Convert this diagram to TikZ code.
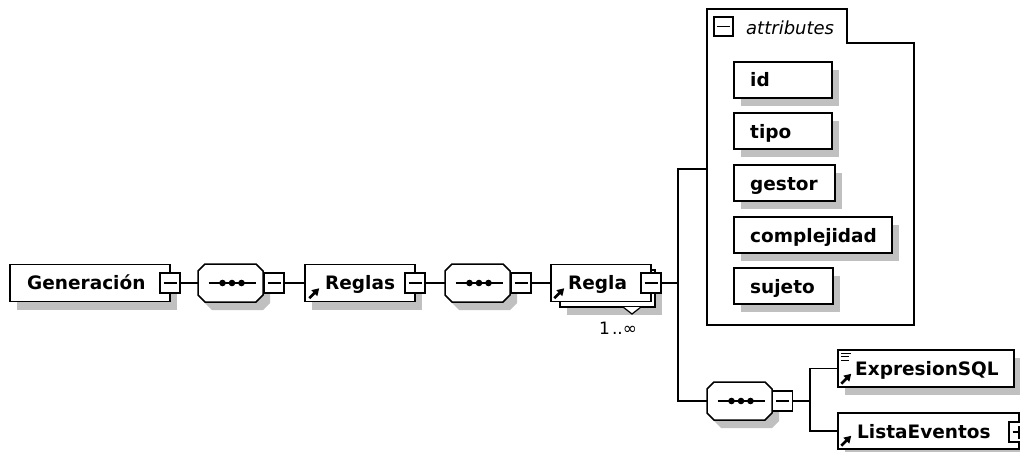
\documentclass[tikz,border=0pt]{standalone}
\usepackage{fontspec}
\newfontfamily\dv{DejaVu Sans}
\usetikzlibrary{arrows.meta}
\definecolor{shadowgray}{RGB}{192,192,192}
\tikzset{
  shadowed/.style={preaction={draw=none,fill=shadowgray,transform canvas={shift={(7pt,-8pt)}}}},
  elem/.style={draw, fill=white, rectangle, minimum height=37pt, inner sep=0pt, line width=1.5pt},
  attrbox/.style={elem, minimum height=36pt, shadowed},
  seqnode/.style={rectangle, minimum width=65pt, minimum height=38pt, inner sep=0pt,
    path picture={
      \draw[line width=1.6pt] ([xshift=-22pt]path picture bounding box.center) -- ([xshift=25pt]path picture bounding box.center);
      \foreach \d in {-8,1.5,11} \fill ([xshift=\d pt]path picture bounding box.center) circle (3.3pt);
    }},
  octline/.style={draw, fill=white, line width=1.5pt},
  tog/.style={draw, fill=white, rectangle, minimum size=20pt, inner sep=0pt, line width=1.5pt},
  minus/.style={tog, path picture={\draw[line width=1.3pt] ([xshift=-6.5pt]path picture bounding box.center) -- ([xshift=6.5pt]path picture bounding box.center);}},
  plus/.style={tog, path picture={\draw[line width=1.3pt] ([xshift=-6.5pt]path picture bounding box.center) -- ([xshift=6.5pt]path picture bounding box.center)
      ([yshift=-6.5pt]path picture bounding box.center) -- ([yshift=6.5pt]path picture bounding box.center);}},
  lbl/.style={font=\dv\bfseries\fontsize{18.5pt}{20pt}\selectfont, inner sep=0pt, anchor=base west},
  conn/.style={draw, line width=1.5pt},
  refarrow/.style={line width=2.5pt, -{Triangle[length=7pt,width=8pt]}},
}
% octagon for a sequence compositor: #1 name, #2 x, #3 y (centre)
\newcommand\seqoct[3]{%
  \fill[shadowgray] (#2-25.5+7,#3-19+8) -- (#2+25.5+7,#3-19+8) -- (#2+32.5+7,#3-12+8) -- (#2+32.5+7,#3+12+8)
     -- (#2+25.5+7,#3+19+8) -- (#2-25.5+7,#3+19+8) -- (#2-32.5+7,#3+12+8) -- (#2-32.5+7,#3-12+8) -- cycle;
  \path[octline] (#2-25.5,#3-19) -- (#2+25.5,#3-19) -- (#2+32.5,#3-12) -- (#2+32.5,#3+12)
     -- (#2+25.5,#3+19) -- (#2-25.5,#3+19) -- (#2-32.5,#3+12) -- (#2-32.5,#3-12) -- cycle;
  \node[seqnode] (#1) at (#2,#3) {};
}
\begin{document}
\begin{tikzpicture}[x=1pt,y=-1pt]
\useasboundingbox[fill=white] (0,0) rectangle (1020,452);

% Generacion
\node[elem, shadowed, minimum width=160pt] (gen) at (90,283) {};
\node[lbl] (genT) at (27,289.5) {Generación};
\node[minus] (genM) at (170,283) {};

% sequence 1
\seqoct{s1}{230.5}{283}
\node[minus] (s1M) at (274,283) {};

% Reglas
\node[elem, shadowed, minimum width=110pt] (reglas) at (360,283) {};
\node[lbl] (reglasT) at (325,289.5) {Reglas};
\draw[refarrow] ([shift={(5pt,4pt)}]reglas.south west) -- ++(10,-10);
\node[minus] (reglasM) at (415,283) {};

% sequence 2
\seqoct{s2}{477.5}{283}
\node[minus] (s2M) at (521,283) {};

% Regla (multiple)
\node[elem, shadowed, minimum width=95pt] (reglaB) at (607.5,288.5) {};
\filldraw[fill=white, line width=1.2pt] (623,307) -- (632,314) -- (641,307);
\node[elem, minimum width=100pt] (regla) at (601,283) {};
\node[lbl] (reglaT) at (568,289.5) {Regla};
\draw[refarrow] ([shift={(4pt,4pt)}]regla.south west) -- ++(10,-10);
\node[minus] (reglaM) at (651,283) {};
\node[font=\dv\fontsize{17pt}{19pt}\selectfont, inner sep=0pt, anchor=base west] (occ) at (599,334) {1\kern2pt..∞};

% bus
\coordinate (busM) at (678,283);
\coordinate (attrL) at (707,169);

% attributes frame
\draw[line width=1.5pt] (707,9) -- (847,9) -- (847,43) -- (914,43) -- (914,325) -- (707,325) -- cycle;
\node[minus, minimum size=19pt] (attrM) at (723.5,26.5) {};
\node[font=\dv\itshape\fontsize{18pt}{20pt}\selectfont, inner sep=0pt, anchor=base west] (attrT) at (746,35) {attributes};

\node[attrbox, minimum width=98pt] (aid) at (783,80) {};
\node[lbl] (aidT) at (750,87) {id};
\node[attrbox, minimum width=98pt] (atipo) at (783,131) {};
\node[lbl] (atipoT) at (750,138) {tipo};
\node[attrbox, minimum width=101pt] (agestor) at (784.5,183) {};
\node[lbl] (agestorT) at (750,190) {gestor};
\node[attrbox, minimum width=158pt] (acompl) at (813,235) {};
\node[lbl] (acomplT) at (750,242) {complejidad};
\node[attrbox, minimum width=99pt] (asujeto) at (783.5,286) {};
\node[lbl] (asujetoT) at (750,293) {sujeto};

% sequence 3
\seqoct{s3}{739.5}{401}
\node[minus] (s3M) at (782.5,401) {};
\coordinate (bus2) at (810,401);

% ExpresionSQL
\node[elem, shadowed, minimum width=176pt] (expr) at (926,368.5) {};
\node[lbl] (exprT) at (855,375.5) {ExpresionSQL};
\draw[refarrow] ([shift={(4pt,4pt)}]expr.south west) -- ++(10,-10);
\draw[line width=1pt] ([shift={(4pt,-4pt)}]expr.north west) -- ++(10,0)
  ([shift={(4pt,-7.5pt)}]expr.north west) -- ++(8,0)
  ([shift={(4pt,-11pt)}]expr.north west) -- ++(8,0);

% ListaEventos
\node[elem, shadowed, minimum width=181pt, minimum height=36pt] (lista) at (928.5,431) {};
\node[lbl] (listaT) at (857,438) {ListaEventos};
\draw[refarrow] ([shift={(4pt,4pt)}]lista.south west) -- ++(10,-10);
\node[plus] (listaP) at (1019,432) {};

% connectors
\draw[conn] (genM.east) -- (s1.west);
\draw[conn] (s1M.east) -- (reglas.west);
\draw[conn] (reglasM.east) -- (s2.west);
\draw[conn] (s2M.east) -- (regla.west);
\draw[conn] (reglaM.east) -- (busM);
\draw[conn] (attrL) -| (busM) |- (s3.west);
\draw[conn] (s3M.east) -- (bus2);
\draw[conn] (expr.west) -| (bus2) |- (lista.west);
\end{tikzpicture}
\end{document}
